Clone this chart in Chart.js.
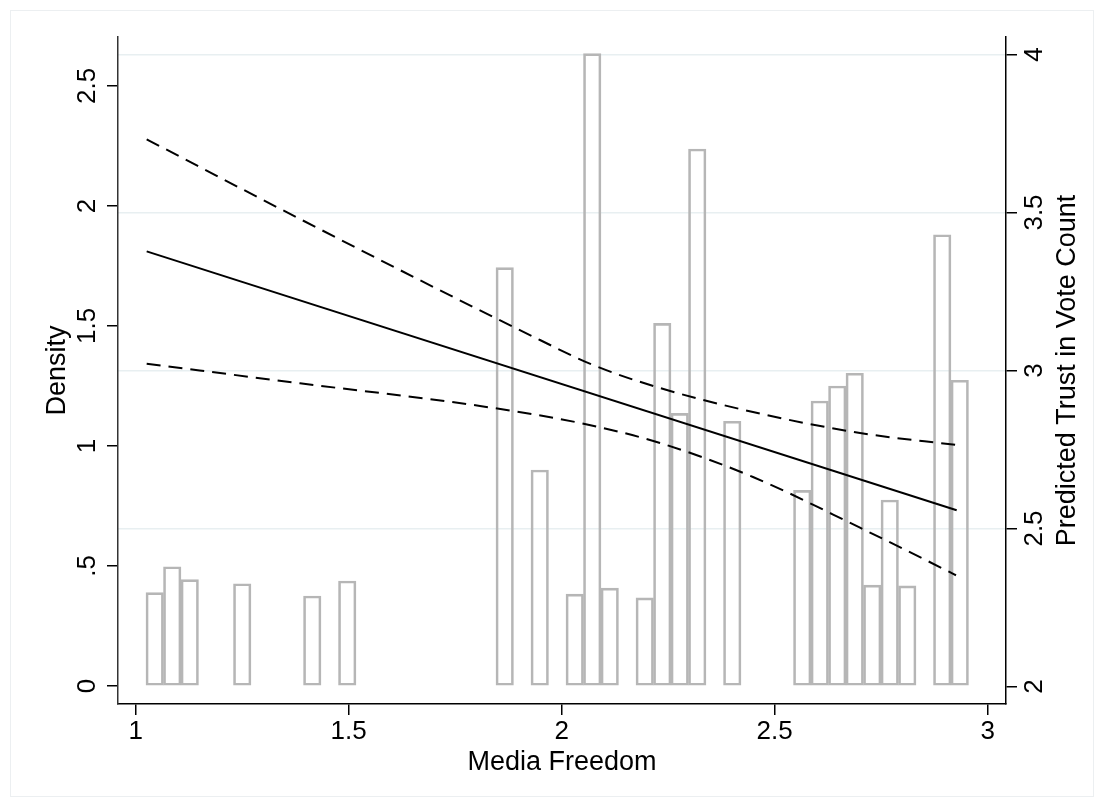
<!DOCTYPE html>
<html>
<head>
<meta charset="utf-8">
<script src="https://cdn.jsdelivr.net/npm/chart.js@4.4.0/dist/chart.umd.min.js"></script>
<style>
html,body{margin:0;padding:0;background:#ffffff;}
#wrap{position:relative;width:1104px;height:807px;}
</style>
</head>
<body>
<div id="wrap"><canvas id="c"></canvas></div>
<script>
// ---- data ----
const binCenters = [1.0447, 1.0858, 1.1269, 1.2501, 1.4145, 1.4966, 1.8663, 1.9485, 2.0307, 2.0717,
                    2.1128, 2.1950, 2.2361, 2.2771, 2.3182, 2.4004, 2.5647, 2.6058, 2.6469, 2.6879,
                    2.7290, 2.7701, 2.8112, 2.8933, 2.9344];
const densities  = [0.389, 0.497, 0.443, 0.426, 0.375, 0.4375, 1.743, 0.900, 0.383, 2.635,
                    0.408, 0.367, 1.511, 1.136, 2.2375, 1.103, 0.815, 1.1875, 1.250, 1.303,
                    0.420, 0.775, 0.417, 1.880, 1.274];

const fitX   = [1.0258, 2.9272];
const fitY   = [3.377, 2.5576];
const upperX = [1.0258, 1.3857, 1.9491, 2.0735, 2.2308, 2.4491, 2.7003, 2.9272];
const upperY = [3.7316, 3.4794, 3.0965, 3.0174, 2.9446, 2.8687, 2.8022, 2.7642];
const lowerX = [1.0258, 1.3857, 1.8083, 2.0430, 2.2308, 2.4491, 2.7003, 2.9092, 2.9256];
const lowerY = [3.0215, 2.9595, 2.8877, 2.8339, 2.7706, 2.6630, 2.5025, 2.3633, 2.3520];

const xTicks     = [1, 1.5, 2, 2.5, 3];
const leftTicks  = [0, 0.5, 1, 1.5, 2, 2.5];
const rightTicks = [2, 2.5, 3, 3.5, 4];

const xTitle     = 'Media Freedom';
const leftTitle  = 'Density';
const rightTitle = 'Predicted Trust in Vote Count';

// ---- helpers ----
const FONT = '"Liberation Sans", Arial, Helvetica, sans-serif';
const tickFont  = {family: FONT, size: 26};
const titleFont = {family: FONT, size: 27};
function fmt(v){
  if (v === 0) return '0';
  let s = String(Math.round(v*100)/100);
  if (s.startsWith('0.')) s = s.slice(1);
  return s;
}
function pts(xs, ys){ return xs.map((x,i)=>({x:x, y:ys[i]})); }

const extras = {
  id: 'extras',
  beforeDraw(chart){
    const ctx = chart.ctx;
    ctx.save();
    ctx.fillStyle = '#ffffff';
    ctx.fillRect(0,0,chart.width,chart.height);
    ctx.strokeStyle = '#eceff1';
    ctx.lineWidth = 1;
    ctx.strokeRect(10.5, 10.5, chart.width-21, chart.height-21);
    ctx.restore();
  },
  afterDraw(chart){
    const ctx = chart.ctx;
    const ca = chart.chartArea;
    ctx.save();
    ctx.translate(1068, (ca.top+ca.bottom)/2);
    ctx.rotate(-Math.PI/2);
    ctx.textAlign = 'center';
    ctx.textBaseline = 'middle';
    ctx.fillStyle = '#000';
    ctx.font = titleFont.size + 'px ' + FONT;
    ctx.fillText(rightTitle, 0, 0);
    ctx.restore();
  }
};

new Chart(document.getElementById('c'), {
  type: 'line',
  data: {
    datasets: [
      {
        type: 'line', label: 'fit', data: pts(fitX, fitY), yAxisID: 'y1', xAxisID: 'x',
        borderColor: '#000', borderWidth: 2, pointRadius: 0, fill: false, order: 0
      },
      {
        type: 'line', label: 'upper', data: pts(upperX, upperY), yAxisID: 'y1', xAxisID: 'x',
        borderColor: '#000', borderWidth: 2, borderDash: [14, 8], pointRadius: 0, fill: false,
        cubicInterpolationMode: 'monotone', order: 0
      },
      {
        type: 'line', label: 'lower', data: pts(lowerX, lowerY), yAxisID: 'y1', xAxisID: 'x',
        borderColor: '#000', borderWidth: 2, borderDash: [14, 8], pointRadius: 0, fill: false,
        cubicInterpolationMode: 'monotone', order: 0
      },
      {
        type: 'bar', label: 'density', data: pts(binCenters, densities), yAxisID: 'y', xAxisID: 'x',
        backgroundColor: 'rgba(255,255,255,0)', borderColor: '#b6b6b6', borderWidth: 2,
        borderSkipped: false, barPercentage: 1.0, categoryPercentage: 1.0, order: 1
      }
    ]
  },
  options: {
    responsive: true,
    maintainAspectRatio: false,
    animation: false,
    layout: {padding: {top: 37, left: 0, right: 0, bottom: 0}},
    plugins: {legend: {display: false}, tooltip: {enabled: false}},
    scales: {
      x: {
        type: 'linear', position: 'bottom', min: 0.9585, max: 3.043, offset: false,
        afterBuildTicks: s => { s.ticks = xTicks.map(v => ({value: v})); },
        afterFit: s => { s.height = 103; },
        ticks: {font: tickFont, color: '#000', padding: 1, maxRotation: 0, autoSkip: false, callback: v => fmt(v)},
        grid: {drawOnChartArea: false, offset: false, tickLength: 11, tickColor: '#000', lineWidth: 1.5},
        border: {display: true, color: '#000', width: 1.5},
        title: {display: true, text: xTitle, font: titleFont, color: '#000', padding: {top: 0, bottom: 28}}
      },
      y: {
        type: 'linear', position: 'left', min: -0.075, max: 2.704,
        afterBuildTicks: s => { s.ticks = leftTicks.map(v => ({value: v})); },
        afterFit: s => { s.width = 118; },
        ticks: {font: tickFont, color: '#000', padding: 1, minRotation: 90, maxRotation: 90, crossAlign: 'center', autoSkip: false, callback: v => fmt(v)},
        grid: {drawOnChartArea: false, tickLength: 11, tickColor: '#000', lineWidth: 1.5},
        border: {display: true, color: '#333', width: 1.5},
        title: {display: true, text: leftTitle, font: titleFont, color: '#000', padding: {top: 41, bottom: 0}}
      },
      y1: {
        type: 'linear', position: 'right', min: 1.9446, max: 4.0554,
        afterBuildTicks: s => { s.ticks = rightTicks.map(v => ({value: v})); },
        afterFit: s => { s.width = 98; },
        ticks: {font: tickFont, color: '#000', padding: 0, minRotation: 90, maxRotation: 90, crossAlign: 'center', autoSkip: false, callback: v => fmt(v)},
        grid: {
          drawOnChartArea: true, tickLength: 11, tickColor: '#000', lineWidth: 1.5,
          color: c => (c.tick && c.tick.value === 2) ? 'rgba(0,0,0,0)' : '#e8eff1'
        },
        border: {display: true, color: '#000', width: 1.5}
      }
    }
  },
  plugins: [extras]
});
</script>
</body>
</html>
